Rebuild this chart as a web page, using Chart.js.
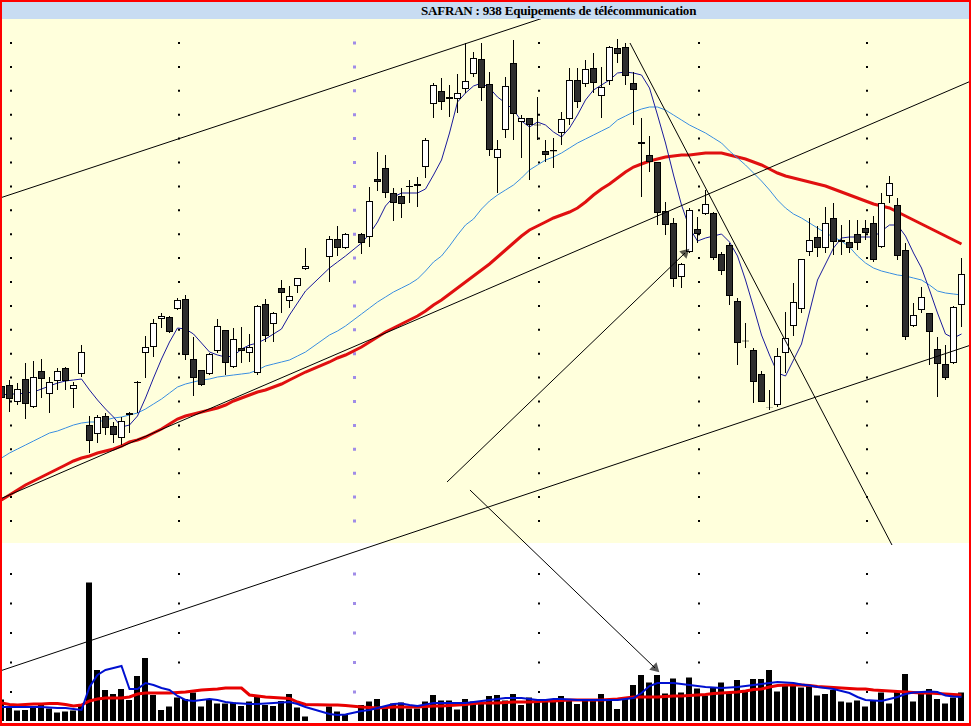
<!DOCTYPE html>
<html>
<head>
<meta charset="utf-8">
<title>SAFRAN : 938 Equipements de télécommunication</title>
<script src="https://cdn.jsdelivr.net/npm/chart.js@4.4.1/dist/chart.umd.min.js"></script>
<style>
    html, body { margin: 0; padding: 0; background: #fff; }
    #frame { position: relative; width: 971px; height: 726px; background: #f00; overflow: hidden; }
    #title {
        position: absolute; left: 2px; top: 2px; width: 967px; height: 17px;
        background: #c8dcf2; color: #000;
        font: bold 13px "Liberation Serif", "Times New Roman", serif; line-height: 17px;
        letter-spacing: -0.2px;
    }
    #title span { position: absolute; left: 419px; top: 0; white-space: nowrap; }
    #wrap {
        position: absolute; left: 2px; top: 19px; width: 967px; height: 704px;
        background: linear-gradient(to bottom, #ffffdc 0, #ffffdc 524px, #fff 524px);
    }
    #chart { display: block; }
</style>
</head>
<body>
<div id="frame">
    <div id="title"><span>SAFRAN : 938 Equipements de télécommunication</span></div>
    <div id="wrap"><canvas id="chart" width="967" height="704"></canvas></div>
</div>
<script>
// ---- data: one entry per trading day (null = no session) ----
const days = Array.from({ length: 121 }, (_, i) => i);

const open = [
    12.28, 12.30, 11.96, 12.42, 11.86, 12.58, 12.12, 12.38, 12.64, 12.22,
    12.52, 11.50, 11.32, 11.68, 11.48, 11.24, 11.74, 12.36, 12.94, 13.06,
    13.62, 13.66, 13.82, 14.02, 12.82, 12.60, 12.52, 12.98, 13.40, 12.66,
    13.04, 12.94, 12.54, 13.92, 13.52, 14.24, 13.98, 14.28, 14.62, null,
    null, 14.86, 15.22, 15.04, null, 15.32, 15.26, 16.42, 16.64, 16.14,
    16.08, 16.28, 16.28, 16.66, 17.92, 18.18, 18.02, 18.02, 18.22, 18.52,
    18.82, 18.32, 16.84, 17.40, 18.74, 17.56, 17.64, 17.51, 16.98, 16.97,
    17.34, 17.62, 18.40, 18.32, 18.64, 18.08, 18.38, 19.04, 19.06, 18.34,
    17.12, 16.90, 16.76, 15.78, 15.54, 14.46, 14.96, 15.42, 15.72, 15.74,
    14.92, 15.10, 13.98, 13.19, 13.00, 12.52, 11.85, 11.90, 12.94, 13.48,
    13.82, 14.96, 15.26, 15.04, 15.64, 15.20, 15.16, 15.32, 15.44, 15.54,
    15.06, 16.08, 15.90, 15.00, 13.48, 13.80, 13.74, 13.02, 12.72, 12.74,
    13.90
];
const high = [
    12.32, 12.40, 12.34, 12.74, 12.78, 12.82, 12.46, 12.64, 12.66, 12.36,
    13.10, 11.68, 11.70, 11.74, 11.56, 11.66, 11.76, 12.38, 13.28, 13.62,
    13.74, 13.68, 14.04, 14.10, 13.26, 12.60, 12.94, 13.62, 13.40, 13.44,
    13.46, 13.32, 13.90, 14.02, 13.76, 14.40, 14.28, 14.44, 15.04, null,
    null, 15.28, 15.48, 15.34, null, 15.34, 16.26, 16.96, 16.90, 16.24,
    16.24, 16.40, 16.46, 17.24, 18.34, 18.44, 18.30, 18.52, 19.14, 18.96,
    19.14, 18.56, 17.20, 18.46, 19.20, 17.70, 17.64, 18.06, 17.20, 17.24,
    17.76, 18.64, 18.64, 18.80, 18.94, 18.66, 19.08, 19.22, 19.14, 18.56,
    17.64, 17.28, 16.76, 15.96, 15.64, 14.74, 15.84, 15.66, 16.20, 15.76,
    14.96, 15.14, 14.04, 13.54, 13.04, 12.58, 12.20, 13.04, 13.76, 14.34,
    14.82, 15.64, 15.48, 15.86, 15.94, 15.50, 15.60, 15.60, 15.60, 15.68,
    16.14, 16.48, 16.04, 15.14, 13.94, 14.26, 13.74, 13.26, 13.10, 13.88,
    14.84
];
const low = [
    11.92, 11.76, 11.90, 11.62, 11.84, 12.04, 11.74, 12.20, 12.20, 11.84,
    12.46, 10.94, 11.14, 11.30, 11.14, 11.10, 11.34, 11.74, 12.44, 12.86,
    13.44, 13.34, 13.80, 12.80, 12.08, 12.28, 12.50, 12.94, 12.50, 12.64,
    12.74, 12.76, 12.50, 13.16, 13.16, 13.74, 13.84, 14.14, 14.60, null,
    null, 14.36, 14.88, 15.02, null, 14.92, 15.06, 16.18, 16.04, 15.58,
    15.64, 15.94, 15.86, 16.44, 17.64, 17.80, 17.66, 17.74, 18.14, 18.46,
    17.98, 16.88, 16.14, 17.24, 17.20, 16.84, 16.40, 17.20, 16.76, 16.64,
    17.10, 17.50, 17.84, 18.26, 18.14, 17.64, 18.30, 18.74, 18.30, 17.50,
    16.06, 16.56, 15.50, 15.30, 14.26, 14.24, 14.94, 15.14, 15.70, 14.80,
    14.50, 13.90, 12.70, 13.04, 11.94, 11.96, 11.80, 11.86, 12.54, 13.28,
    13.74, 14.88, 14.86, 14.94, 14.90, 14.90, 14.94, 15.00, 15.20, 14.76,
    15.04, 15.94, 14.80, 13.20, 13.46, 13.74, 12.70, 12.06, 12.40, 12.72,
    13.46
];
const close = [
    12.04, 12.02, 12.22, 11.92, 12.46, 12.42, 12.36, 12.58, 12.38, 12.30,
    12.96, 11.18, 11.66, 11.44, 11.30, 11.58, 11.70, 12.34, 13.06, 13.54,
    13.68, 13.36, 14.00, 12.90, 12.44, 12.30, 12.92, 13.48, 12.74, 13.22,
    12.98, 13.06, 13.88, 13.28, 13.74, 14.14, 14.08, 14.44, 14.68, null,
    null, 15.22, 15.04, 15.32, null, 15.14, 15.98, 16.36, 16.14, 15.94,
    15.92, 16.26, 16.32, 17.20, 18.30, 17.96, 18.06, 18.14, 18.38, 18.84,
    18.24, 17.00, 17.02, 18.28, 17.72, 17.64, 17.50, 17.49, 16.90, 17.00,
    17.62, 18.40, 17.96, 18.62, 18.34, 18.26, 19.06, 18.92, 18.48, 18.20,
    17.16, 16.76, 15.74, 15.50, 14.42, 14.72, 15.80, 15.32, 15.92, 14.84,
    14.58, 14.08, 13.14, 13.17, 12.36, 11.96, 11.84, 12.88, 13.24, 13.96,
    14.82, 15.20, 15.04, 15.54, 15.16, 15.16, 15.04, 15.14, 15.34, 14.80,
    15.94, 16.34, 14.88, 13.26, 13.70, 14.06, 13.36, 12.72, 12.44, 13.86,
    14.52
];

// moving averages as drawn on the chart
const ma5 = [
    12.10, 12.12, 12.12, 12.14, 12.16, 12.22, 12.28, 12.34, 12.38, 12.40,
    12.42, 12.20, 12.00, 11.82, 11.66, 11.46, 11.50, 11.68, 12.04, 12.44,
    12.82, 13.16, 13.44, 13.42, 13.32, 13.14, 12.96, 12.90, 12.86, 12.88,
    13.02, 13.10, 13.14, 13.22, 13.32, 13.42, 13.70, 13.94, 14.18, null,
    null, 14.64, 14.76, 14.88, null, 15.14, 15.32, 15.56, 15.88, 16.06,
    16.14, 16.14, 16.14, 16.22, 16.50, 16.80, 17.34, 17.96, 18.14, 18.28,
    18.34, 18.24, 18.06, 17.94, 17.80, 17.58, 17.46, 17.56, 17.50, 17.36,
    17.26, 17.44, 17.70, 18.00, 18.20, 18.30, 18.40, 18.54, 18.56, 18.54,
    18.50, 18.24, 17.70, 17.14, 16.50, 15.90, 15.44, 15.18, 15.24, 15.28,
    15.32, 15.16, 14.88, 14.40, 13.86, 13.30, 12.90, 12.54, 12.48, 12.80,
    13.12, 13.76, 14.40, 14.72, 15.04, 15.24, 15.26, 15.26, 15.26, 15.26,
    15.38, 15.50, 15.50, 15.28, 14.94, 14.64, 14.20, 13.74, 13.32, 13.24,
    13.32
];
const ma20 = [
    10.84, 10.94, 11.02, 11.10, 11.18, 11.26, 11.34, 11.38, 11.44, 11.50,
    11.54, 11.56, 11.56, 11.60, 11.64, 11.66, 11.70, 11.74, 11.82, 11.92,
    12.02, 12.14, 12.26, 12.32, 12.36, 12.40, 12.42, 12.46, 12.48, 12.50,
    12.52, 12.54, 12.60, 12.68, 12.72, 12.76, 12.80, 12.88, 12.96, null,
    null, 13.30, 13.38, 13.48, null, 13.72, 13.84, 13.96, 14.06, 14.16,
    14.24, 14.32, 14.42, 14.58, 14.76, 14.88, 15.08, 15.30, 15.50, 15.62,
    15.82, 15.98, 16.10, 16.20, 16.30, 16.44, 16.60, 16.70, 16.80, 16.86,
    16.94, 17.04, 17.14, 17.22, 17.30, 17.38, 17.46, 17.60, 17.68, 17.76,
    17.82, 17.86, 17.86, 17.80, 17.70, 17.60, 17.50, 17.42, 17.34, 17.24,
    17.14, 16.98, 16.84, 16.70, 16.54, 16.38, 16.20, 16.00, 15.84, 15.72,
    15.64, 15.54, 15.44, 15.34, 15.26, 15.18, 15.06, 14.88, 14.74, 14.64,
    14.58, 14.54, 14.50, 14.48, 14.44, 14.40, 14.30, 14.18, 14.14, 14.12,
    14.10
];
const ma50 = [
    10.00, 10.10, 10.20, 10.30, 10.38, 10.46, 10.54, 10.62, 10.70, 10.78,
    10.84, 10.88, 10.94, 10.98, 11.02, 11.08, 11.16, 11.20, 11.26, 11.34,
    11.42, 11.52, 11.62, 11.68, 11.72, 11.76, 11.80, 11.84, 11.90, 11.98,
    12.04, 12.10, 12.16, 12.20, 12.26, 12.32, 12.40, 12.48, 12.56, null,
    null, 12.76, 12.84, 12.90, null, 13.06, 13.16, 13.26, 13.36, 13.44,
    13.52, 13.60, 13.68, 13.78, 13.90, 14.00, 14.12, 14.24, 14.36, 14.48,
    14.60, 14.72, 14.86, 15.00, 15.14, 15.28, 15.40, 15.48, 15.56, 15.64,
    15.70, 15.76, 15.84, 15.96, 16.10, 16.22, 16.32, 16.44, 16.56, 16.66,
    16.72, 16.78, 16.82, 16.86, 16.88, 16.90, 16.90, 16.92, 16.94, 16.94,
    16.94, 16.90, 16.86, 16.82, 16.76, 16.70, 16.62, 16.54, 16.48, 16.44,
    16.40, 16.36, 16.32, 16.28, 16.22, 16.16, 16.10, 16.04, 15.98, 15.92,
    15.88, 15.84, 15.76, 15.68, 15.60, 15.52, 15.44, 15.36, 15.28, 15.20,
    15.12
];

// volume (thousands of shares) and its averages
const volume = [
    430, 290, 210, 220, 290, 340, 250, 170, 190, 210,
    320, 2770, 1020, 620, 540, 640, 420, 900, 1260, 520,
    220, 290, 470, 440, 570, 290, 420, 350, 350, 370,
    300, 390, 500, 320, 300, 400, 540, 270, 90, null,
    null, 290, 190, 120, null, 320, 390, 440, 300, 350,
    370, 250, 250, 390, 520, 410, 410, 230, 440, 390,
    350, 500, 520, 410, 540, 320, 470, 390, 440, 410,
    500, 430, 340, 440, 440, 540, 430, 240, 470, 720,
    920, 770, 920, 550, 850, 570, 870, 650, 510, 670,
    770, 570, 820, 610, 840, 840, 1020, 590, 720, 710,
    670, 720, 510, 540, 620, 390, 370, 410, 290, 400,
    570, 350, 590, 940, 390, 550, 640, 440, 350, 470,
    570
];
const volMa5 = [
    280, 280, 280, 280, 280, 280, 270, 260, 260, 240,
    220, 680, 920, 1020, 1060, 1100, 640, 640, 760, 720,
    660, 620, 500, 420, 400, 420, 440, 420, 380, 360,
    350, 340, 340, 350, 360, 370, 380, 340, 280, null,
    null, 140, 120, 130, null, 200, 220, 260, 300, 340,
    350, 320, 300, 330, 360, 360, 360, 360, 360, 380,
    400, 420, 440, 460, 460, 460, 440, 420, 420, 440,
    440, 430, 420, 420, 420, 420, 420, 420, 440, 460,
    560, 700, 760, 760, 760, 740, 720, 700, 680, 670,
    660, 670, 680, 700, 720, 740, 760, 780, 770, 760,
    730, 710, 680, 660, 640, 600, 560, 480, 420, 410,
    400, 440, 480, 540, 570, 580, 590, 580, 510, 490,
    480
];
const volMa20 = [
    360, 330, 320, 330, 340, 340, 350, 350, 330, 300,
    320, 400, 440, 460, 460, 460, 480, 540, 560, 560,
    560, 560, 570, 580, 600, 620, 630, 640, 660, 660,
    660, 520, 500, 480, 470, 460, 450, 380, 330, null,
    null, 320, 320, 310, null, 280, 270, 260, 270, 280,
    280, 280, 280, 290, 300, 300, 310, 320, 330, 350,
    360, 360, 360, 370, 380, 380, 380, 390, 400, 400,
    410, 420, 420, 420, 420, 420, 430, 440, 460, 480,
    480, 480, 480, 490, 500, 500, 510, 520, 530, 550,
    560, 570, 580, 600, 630, 640, 680, 710, 720, 720,
    720, 710, 690, 680, 670, 660, 650, 640, 640, 620,
    610, 600, 590, 580, 570, 560, 560, 550, 540, 530,
    520
];

// hand-drawn lines: [day1, price1, day2, price2]
const trendLines = [
    [-0.19, 16.04, 67.69, 19.64],
    [-0.19, 6.58, 121.19, 13.10],
    [-0.19, 10.02, 121.19, 18.38],
    [78.56, 19.14, 111.31, 9.10]
];
const arrows = [
    [55.69, 10.36, 85.44, 14.94],
    [58.56, 10.20, 81.69, 6.64]
];

// month separators (day positions) and dotted price rows (canvas px)
const monthMarks = [1.1875, 22.1875, 44.0625, 67.1875, 87.1875, 108.1875];
const yearMark = 2;
const dotRows = [];
for (let k = 0; k <= 20; k++) dotRows.push(24 + k * 23.9);
[555, 584.5, 614, 643.5, 673].forEach(v => dotRows.push(v));

function dotDash(size) {
    const arr = [0];
    let pos = 0;
    dotRows.forEach(c => {
        const s = c - size / 2;
        arr.push(s - pos, size);
        pos = s + size;
    });
    arr.push(2000);
    return arr;
}

function series(arr) {
    return days.map(i => ({ x: i, y: arr[i] }));
}

const sessions = days.filter(i => open[i] != null);

const wickData = sessions.map(i => ({ x: i, y: [low[i], high[i]] }));
const bodyData = sessions.map(i => ({ x: i, y: [open[i], close[i]] }));
const bodyColors = sessions.map(i => (close[i] >= open[i] ? '#ffffff' : '#2e2e2e'));
const volData = days.filter(i => volume[i] != null).map(i => ({ x: i, y: volume[i] }));

const lineSets = trendLines.map(t => ({
    type: 'line',
    data: [{ x: t[0], y: t[1] }, { x: t[2], y: t[3] }],
    borderColor: '#000',
    borderWidth: 1,
    pointRadius: 0,
    order: 0
}));

const arrowSets = arrows.map(t => {
    const up = t[3] > t[1];
    return {
        type: 'line',
        data: [{ x: t[0], y: t[1] }, { x: t[2], y: t[3] }],
        borderColor: '#000',
        borderWidth: 1,
        pointRadius: [0, 6],
        pointStyle: 'triangle',
        pointRotation: [0, up ? 46 : 134],
        pointBackgroundColor: 'rgba(0,0,0,0.65)',
        pointBorderWidth: 0,
        order: 0
    };
});

new Chart(document.getElementById('chart'), {
    type: 'bar',
    data: {
        datasets: [
            ...lineSets,
            ...arrowSets,
            {
                type: 'line', data: series(volMa5), yAxisID: 'yv',
                borderColor: '#0010d0', borderWidth: 2, pointRadius: 0, spanGaps: true, order: 1
            },
            {
                type: 'line', data: series(volMa20), yAxisID: 'yv',
                borderColor: '#e80000', borderWidth: 3, pointRadius: 0, spanGaps: true, order: 1
            },
            {
                data: volData, xAxisID: 'xv', yAxisID: 'yv',
                backgroundColor: '#000', borderWidth: 0, barThickness: 6,
                inflateAmount: 0, grouped: false, order: 2
            },
            {
                data: bodyData,
                backgroundColor: bodyColors, borderColor: '#000', borderWidth: 1,
                borderSkipped: false, barThickness: 7, inflateAmount: 0, grouped: false, order: 3
            },
            {
                data: wickData,
                backgroundColor: '#000', borderWidth: 0, barThickness: 1,
                inflateAmount: 0, grouped: false, order: 4
            },
            {
                type: 'line', data: series(ma5),
                borderColor: '#1a1a9c', borderWidth: 1, pointRadius: 0, spanGaps: true, order: 5
            },
            {
                type: 'line', data: series(ma20),
                borderColor: '#3a8ee0', borderWidth: 1, pointRadius: 0, spanGaps: true, order: 5
            },
            {
                type: 'line', data: series(ma50),
                borderColor: '#e01010', borderWidth: 3, pointRadius: 0, spanGaps: true, order: 5
            }
        ]
    },
    options: {
        responsive: false,
        animation: false,
        devicePixelRatio: 1,
        events: [],
        layout: { autoPadding: false, padding: 0 },
        plugins: {
            legend: { display: false },
            tooltip: { enabled: false },
            title: { display: false }
        },
        scales: {
            x: {
                type: 'linear',
                min: 0.0625,
                max: 120.9375,
                offset: false,
                afterBuildTicks: axis => { axis.ticks = monthMarks.map(v => ({ value: v })); },
                ticks: { display: false },
                grid: {
                    offset: false,
                    drawTicks: false,
                    color: ctx => (ctx.index === yearMark ? '#a08ce8' : '#000'),
                    lineWidth: ctx => (ctx.index === yearMark ? 3 : 2)
                },
                border: {
                    display: false,
                    dash: ctx => dotDash(ctx.index === yearMark ? 3 : 2)
                }
            },
            xv: {
                type: 'linear',
                display: false,
                min: 0.125,
                max: 121.0,
                offset: false
            },
            y: {
                display: false,
                min: 5.54,
                max: 19.62
            },
            yv: {
                display: false,
                min: -40,
                max: 14040
            }
        }
    }
});
</script>
</body>
</html>
